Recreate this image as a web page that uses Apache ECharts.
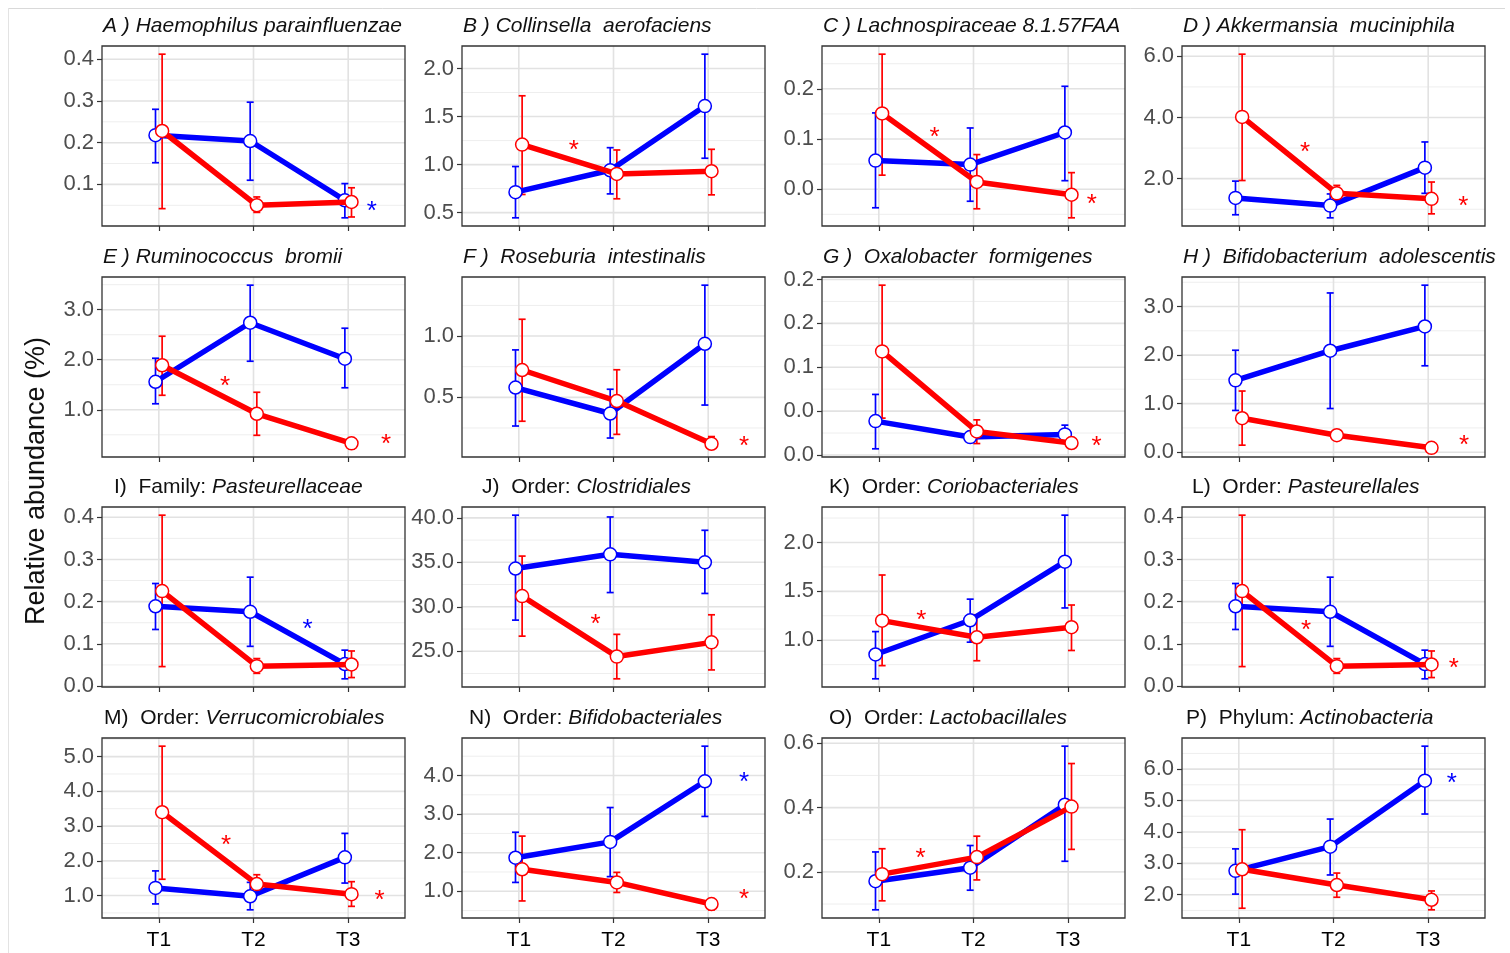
<!DOCTYPE html>
<html><head><meta charset="utf-8">
<script src="https://cdn.jsdelivr.net/npm/echarts@6/dist/echarts.min.js"></script>
<style>html,body{margin:0;padding:0;background:#fff}#c{width:1510px;height:953px}</style>
</head><body><div id="c"></div>
<script>
// ---------------- data ----------------
const timepoints = ['T1', 'T2', 'T3'];
const titleLabel = ['A )', 'B )', 'C )', 'D )', 'E )', 'F ) ', 'G ) ', 'H ) ',
  'I)', 'J)', 'K)', 'L)', 'M)', 'N)', 'O)', 'P)'];
const titleRank = ['', '', '', '', '', '', '', '',
  'Family:', 'Order:', 'Order:', 'Order:', 'Order:', 'Order:', 'Order:', 'Phylum:'];
const titleTaxon = ['Haemophilus parainfluenzae', 'Collinsella  aerofaciens', 'Lachnospiraceae 8.1.57FAA',
  'Akkermansia  muciniphila', 'Ruminococcus  bromii', 'Roseburia  intestinalis', 'Oxalobacter  formigenes',
  'Bifidobacterium  adolescentis', 'Pasteurellaceae', 'Clostridiales', 'Coriobacteriales', 'Pasteurellales',
  'Verrucomicrobiales', 'Bifidobacteriales', 'Lactobacillales', 'Actinobacteria'];

const blueMean = [
  [0.218, 0.204, 0.062], [0.713, 0.941, 1.609], [0.057, 0.049, 0.113], [1.37, 1.12, 2.36],
  [1.56, 2.74, 2.02], [0.58, 0.368, 0.937], [0.0386, 0.0204, 0.0234], [1.48, 2.09, 2.59],
  [0.189, 0.176, 0.052], [34.3, 35.9, 35.0], [0.854, 1.204, 1.803], [0.189, 0.176, 0.052],
  [1.22, 0.98, 2.1], [1.87, 2.28, 3.85], [0.171, 0.213, 0.409], [2.76, 3.53, 5.63]];
const blueLow = [
  [0.152, 0.11, 0.02], [0.446, 0.695, 1.066], [-0.037, -0.024, 0.017], [0.82, 0.72, 1.52],
  [1.12, 1.97, 1.44], [0.266, 0.168, 0.437], [0.007, 0.016, 0.016], [0.86, 0.9, 1.78],
  [0.134, 0.094, 0.017], [28.5, 31.6, 31.5], [0.605, 0.98, 1.33], [0.134, 0.094, 0.017],
  [0.76, 0.59, 1.36], [1.23, 1.38, 2.94], [0.082, 0.143, 0.233], [2.02, 2.63, 4.57]];
const blueHigh = [
  [0.28, 0.297, 0.102], [0.98, 1.176, 2.149], [0.152, 0.122, 0.205], [1.92, 1.5, 3.2],
  [2.03, 3.49, 2.63], [0.887, 0.566, 1.415], [0.069, 0.026, 0.034], [2.1, 3.28, 3.44],
  [0.243, 0.258, 0.085], [40.3, 40.1, 38.6], [1.088, 1.42, 2.279], [0.243, 0.258, 0.085],
  [1.71, 1.38, 2.79], [2.53, 3.17, 4.76], [0.262, 0.282, 0.591], [3.46, 4.41, 6.73]];
const redMean = [
  [0.228, 0.05, 0.058], [1.208, 0.903, 0.931], [0.151, 0.0145, -0.011], [4.02, 1.52, 1.34],
  [1.89, 0.92, 0.33], [0.723, 0.47, 0.121], [0.118, 0.0268, 0.0136], [0.70, 0.35, 0.09],
  [0.225, 0.047, 0.051], [31.2, 24.4, 26.0], [1.20, 1.03, 1.133], [0.225, 0.047, 0.051],
  [3.4, 1.33, 1.04], [1.57, 1.23, 0.67], [0.193, 0.246, 0.403], [2.81, 2.31, 1.84]];
const redLow = [
  [0.042, 0.033, 0.022], [0.689, 0.644, 0.685], [0.028, -0.039, -0.057], [1.94, 1.3, 0.85],
  [1.29, 0.49, 0.22], [0.305, 0.198, 0.08], [0.042, 0.013, 0.011], [0.145, 0.3, 0.07],
  [0.046, 0.03, 0.02], [26.7, 21.9, 22.9], [0.74, 0.79, 0.895], [0.046, 0.03, 0.02],
  [1.47, 1.08, 0.69], [0.75, 0.97, 0.52], [0.11, 0.175, 0.27], [1.57, 1.92, 1.52]];
const redHigh = [
  [0.412, 0.07, 0.092], [1.716, 1.152, 1.159], [0.269, 0.069, 0.033], [6.07, 1.78, 1.89],
  [2.47, 1.35, 0.44], [1.137, 0.725, 0.18], [0.1935, 0.040, 0.016], [1.26, 0.4, 0.12],
  [0.405, 0.065, 0.083], [35.7, 26.9, 29.1], [1.667, 1.26, 1.36], [0.405, 0.065, 0.083],
  [5.3, 1.6, 1.4], [2.43, 1.49, 0.8], [0.272, 0.311, 0.537], [4.07, 2.69, 2.12]];

const yTicks = [
  [0.1, 0.2, 0.3, 0.4], [0.5, 1.0, 1.5, 2.0], [0.0, 0.1, 0.2], [2, 4, 6],
  [1, 2, 3], [0.5, 1.0], [0, 0.05, 0.1, 0.15, 0.2], [0, 1, 2, 3],
  [0, 0.1, 0.2, 0.3, 0.4], [25, 30, 35, 40], [1.0, 1.5, 2.0], [0, 0.1, 0.2, 0.3, 0.4],
  [1, 2, 3, 4, 5], [1, 2, 3, 4], [0.2, 0.4, 0.6], [2, 3, 4, 5, 6]];
const yTickLabels = [
  ['0.1', '0.2', '0.3', '0.4'], ['0.5', '1.0', '1.5', '2.0'], ['0.0', '0.1', '0.2'], ['2.0', '4.0', '6.0'],
  ['1.0', '2.0', '3.0'], ['0.5', '1.0'], ['0.0', '0.0', '0.1', '0.2', '0.2'], ['0.0', '1.0', '2.0', '3.0'],
  ['0.0', '0.1', '0.2', '0.3', '0.4'], ['25.0', '30.0', '35.0', '40.0'], ['1.0', '1.5', '2.0'], ['0.0', '0.1', '0.2', '0.3', '0.4'],
  ['1.0', '2.0', '3.0', '4.0', '5.0'], ['1.0', '2.0', '3.0', '4.0'], ['0.2', '0.4', '0.6'], ['2.0', '3.0', '4.0', '5.0', '6.0']];

// significance marks: [x position on time axis, y value, group]
const stars = [
  [[3.25, 0.052, 'blue']],
  [[1.58, 1.22, 'red']],
  [[1.59, 0.116, 'red'], [3.25, -0.017, 'red']],
  [[1.70, 3.08, 'red'], [3.37, 1.32, 'red']],
  [[1.70, 1.59, 'red'], [3.40, 0.43, 'red']],
  [[3.38, 0.155, 'red']],
  [[3.30, 0.017, 'red']],
  [[3.38, 0.28, 'red']],
  [[2.57, 0.149, 'blue']],
  [[1.81, 28.8, 'red']],
  [[1.45, 1.27, 'red']],
  [[1.71, 0.148, 'red'], [3.27, 0.057, 'red']],
  [[1.71, 2.62, 'red'], [3.33, 1.05, 'red']],
  [[3.38, 3.98, 'blue'], [3.38, 0.95, 'red']],
  [[1.44, 0.262, 'red']],
  [[3.25, 5.77, 'blue']]];

// ---------------- layout / style ----------------
const COLORS = { blue: '#0000ff', red: '#ff0000' };
const FONT = '"Liberation Sans", Arial, Helvetica, sans-serif';
const colLeft = [102, 462, 822, 1182];
const rowTop = [46, 277, 507, 738];
const boxW = 303, boxH = 180;
const titleDx = [1, 1, 1, 1, 1, 1, 1, 1, 12, 20, 7, 10, 2, 7, 7, 4];
const dodge = 0.035;

const grids = [], xAxes = [], yAxes = [], series = [], graphics = [];

function renderErr(color) {
  return function (params, api) {
    const x = api.value(0), lo = api.value(1), hi = api.value(2);
    const p1 = api.coord([x, lo]), p2 = api.coord([x, hi]);
    const w = 3.5;
    const style = { stroke: color, lineWidth: 1.7 };
    return {
      type: 'group', children: [
        { type: 'line', shape: { x1: p1[0], y1: p1[1], x2: p2[0], y2: p2[1] }, style },
        { type: 'line', shape: { x1: p1[0] - w, y1: p1[1], x2: p1[0] + w, y2: p1[1] }, style },
        { type: 'line', shape: { x1: p2[0] - w, y1: p2[1], x2: p2[0] + w, y2: p2[1] }, style }
      ]
    };
  };
}

for (let i = 0; i < 16; i++) {
  const col = i % 4, row = Math.floor(i / 4);
  const all = blueLow[i].concat(blueHigh[i], redLow[i], redHigh[i]);
  const lo = Math.min(...all), hi = Math.max(...all);
  const pad = (hi - lo) * 0.05;
  const yMin = lo - pad, yMax = hi + pad;

  grids.push({
    left: colLeft[col], top: rowTop[row], width: boxW, height: boxH,
    show: true, borderColor: '#333333', borderWidth: 1.3, backgroundColor: 'transparent',
    containLabel: false, outerBoundsMode: 'none', z: 0
  });
  xAxes.push({
    type: 'value', gridIndex: i, min: 0.4, max: 3.6,
    axisLine: { show: false, onZero: false },
    axisTick: { show: true, customValues: [1, 2, 3], length: 5, lineStyle: { color: '#333', width: 1.2 } },
    axisLabel: {
      show: row === 3, customValues: [1, 2, 3], margin: 12,
      formatter: v => timepoints[Math.round(v) - 1] || '',
      color: '#000', fontSize: 21, fontFamily: FONT
    },
    splitLine: { show: false }
  });
  const ticks = yTicks[i], labels = yTickLabels[i];
  yAxes.push({
    type: 'value', gridIndex: i, min: yMin, max: yMax,
    axisLine: { show: false, onZero: false },
    axisTick: { show: true, customValues: ticks, length: 5, lineStyle: { color: '#333', width: 1.2 } },
    axisLabel: {
      show: true, customValues: ticks, margin: 8,
      formatter: v => { const k = ticks.findIndex(t => Math.abs(t - v) < 1e-9); return k >= 0 ? labels[k] : ''; },
      color: '#4d4d4d', fontSize: 22, fontFamily: FONT
    },
    splitLine: { show: false }
  });

  // grid lines (major at ticks, minor half-way)
  const step = ticks.length > 1 ? ticks[1] - ticks[0] : 0.5;
  const gl = [];
  ticks.forEach(t => gl.push([0, t, 1]));
  for (let k = -1; k < ticks.length; k++) {
    const m = (k < 0 ? ticks[0] - step : ticks[k]) + step / 2;
    if (m > yMin && m < yMax) gl.push([0, m, 0]);
  }
  [1, 2, 3].forEach(t => gl.push([1, t, 1]));
  series.push({
    type: 'custom', xAxisIndex: i, yAxisIndex: i, z: -1, silent: true,
    data: gl,
    renderItem: (params, api) => {
      const cs = params.coordSys;
      const o = api.value(0), v = api.value(1), major = api.value(2);
      let shape;
      if (o === 0) {
        const y = api.coord([1, v])[1];
        shape = { x1: cs.x, y1: y, x2: cs.x + cs.width, y2: y };
      } else {
        const x = api.coord([v, yMin])[0];
        shape = { x1: x, y1: cs.y, x2: x, y2: cs.y + cs.height };
      }
      return { type: 'line', shape, style: { stroke: major ? '#e2e2e2' : '#eeeeee', lineWidth: major ? 1.6 : 1 } };
    }
  });

  // error bars
  [['blue', blueLow[i], blueHigh[i], -dodge], ['red', redLow[i], redHigh[i], dodge]].forEach(([g, l, h, d]) => {
    series.push({
      type: 'custom', xAxisIndex: i, yAxisIndex: i, z: 2, silent: true,
      data: l.map((v, k) => [k + 1 + d, v, h[k]]),
      renderItem: renderErr(COLORS[g])
    });
  });
  // lines with points
  [['blue', blueMean[i], -dodge], ['red', redMean[i], dodge]].forEach(([g, m, d], si) => {
    series.push({
      type: 'line', xAxisIndex: i, yAxisIndex: i, z: 3 + si, silent: true,
      data: m.map((v, k) => [k + 1 + d, v]),
      lineStyle: { color: COLORS[g], width: 5.5 },
      symbol: 'circle', symbolSize: 13, showSymbol: true,
      itemStyle: { color: '#fff', borderColor: COLORS[g], borderWidth: 1.5 },
      animation: false
    });
  });
  // significance stars
  series.push({
    type: 'custom', xAxisIndex: i, yAxisIndex: i, z: 6, silent: true,
    data: stars[i].map(s => [s[0], s[1], s[2] === 'blue' ? 0 : 1]),
    renderItem: (params, api) => {
      const p = api.coord([api.value(0), api.value(1)]);
      return {
        type: 'text', x: p[0], y: p[1] + 7,
        style: { text: '*', fill: api.value(2) === 0 ? COLORS.blue : COLORS.red, fontSize: 26, fontFamily: FONT, align: 'center', verticalAlign: 'middle' }
      };
    }
  });

  // panel title
  const rich = {
    i: { fontStyle: 'italic', fontSize: 21, fontFamily: FONT, fill: '#111', color: '#111' },
    n: { fontStyle: 'normal', fontSize: 21, fontFamily: FONT, fill: '#111', color: '#111' }
  };
  const txt = titleRank[i] === ''
    ? '{i|' + titleLabel[i] + ' ' + titleTaxon[i] + '}'
    : '{n|' + titleLabel[i] + '  ' + titleRank[i] + ' }{i|' + titleTaxon[i] + '}';
  graphics.push({
    type: 'text', x: colLeft[col] + titleDx[i], y: rowTop[row] - 20, silent: true,
    style: { text: txt, rich, align: 'left', verticalAlign: 'middle', fontSize: 21, fontFamily: FONT, fill: '#111' }
  });
}

graphics.push({
  type: 'text', x: 37, y: 481, rotation: Math.PI / 2, silent: true,
  style: { text: 'Relative abundance (%)', fontSize: 27, fontFamily: FONT, fill: '#111', align: 'center', verticalAlign: 'middle' }
});
graphics.push({ type: 'line', silent: true, shape: { x1: 8, y1: 8.5, x2: 1505, y2: 8.5 }, style: { stroke: '#d9d9d9', lineWidth: 1 } });
graphics.push({ type: 'line', silent: true, shape: { x1: 8.5, y1: 8, x2: 8.5, y2: 953 }, style: { stroke: '#e3e3e3', lineWidth: 1 } });

const chart = echarts.init(document.getElementById('c'), null, { renderer: 'canvas' });
chart.setOption({
  backgroundColor: '#ffffff',
  animation: false,
  grid: grids, xAxis: xAxes, yAxis: yAxes, series, graphic: graphics
});
</script></body></html>
